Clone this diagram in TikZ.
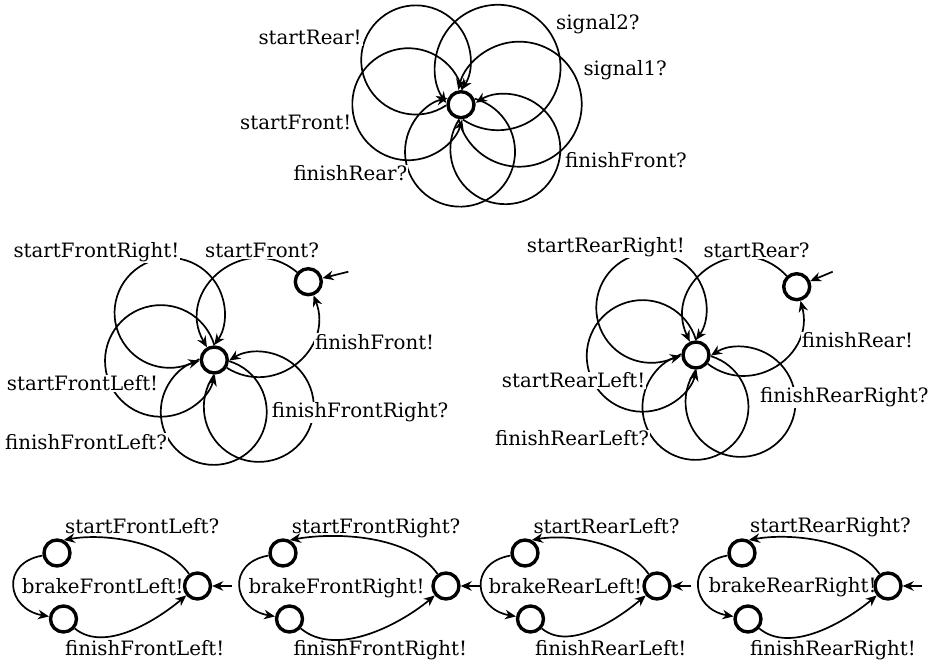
\documentclass[tikz,border=0pt]{standalone}
\usepackage{fontspec}
\setmainfont{DejaVu Serif}
\usetikzlibrary{calc}
\usetikzlibrary{arrows.meta}

\begin{document}
\begin{tikzpicture}[x=1pt, y=1pt,
		Kante/.style={line width=1.7pt, arrows = -{Stealth[length=11pt, width=9.5pt]}},
		Ort/.style={draw, circle, line width=3.4pt, minimum size=26pt, inner sep=0pt},
		Marke/.style={fill=white, inner sep=1pt, anchor=base west, font=\fontsize{19.8}{23}\selectfont},
		Schleife/.style n args={4}{to path={(\tikztostart) ++({#1+(#4)*#2}:15) arc[start angle={#1+180-(#4)*asin(15*sin(#2)/#3)}, delta angle={-(#4)*(360-2*asin(15*sin(#2)/#3))}, radius=#3]}}]
				\useasboundingbox (0,0) rectangle (933,663);
				% Steuerung
				\node (m) at (461,558.3) [Ort] {};
				\draw[Kante] (m) to[Schleife={135.3}{47.5}{54.6}{1}] (m);
				\draw[Kante] (m) to[Schleife={45.3}{128}{62.7}{-1}] (m);
				\draw[Kante] (m) to[Schleife={0.5}{99.7}{62.5}{-1}] (m);
				\draw[Kante] (m) to[Schleife={179.5}{94.9}{56}{-1}] (m);
				\draw[Kante] (m) to[Schleife={-91.2}{114.8}{55}{1}] (m);
				\draw[Kante] (m) to[Schleife={-45.1}{52.6}{55}{-1}] (m);
				\node (m1) at (257.3,618.7) [Marke] {startRear!};
				\node (m2) at (555,633.7) [Marke] {signal2?};
				\node (m3) at (582.3,587) [Marke] {signal1?};
				\node (m4) at (239,533.7) [Marke] {startFront!};
				\node (m5) at (292.3,482) [Marke] {finishRear?};
				\node (m6) at (564,495.3) [Marke] {finishFront?};
				% Front
				\node (f1) at (214.3,303) [Ort] {};
				\node (f0) at (308.3,381.3) [Ort] {};
				\coordinate (f0e) at ($(f0) + (40,10)$);
				\draw[Kante] (f0e) -- (f0);
				\draw[Kante] (f0) to[out=140, in=120, looseness=1.45] (f1);
				\draw[Kante] (f1) to[out=328, in=-69, looseness=1.3] (f0);
				\draw[Kante] (f1) to[Schleife={133.5}{43}{55}{1}] (f1);
				\draw[Kante] (f1) to[Schleife={181}{91}{55.8}{-1}] (f1);
				\draw[Kante] (f1) to[Schleife={-90.6}{86}{53}{1}] (f1);
				\draw[Kante] (f1) to[Schleife={-46.5}{44.5}{55}{-1}] (f1);
				\node (f2) at (12.3,405.3) [Marke] {startFrontRight!};
				\node (f3) at (204,405.3) [Marke] {startFront?};
				\node (f4) at (314,313.7) [Marke] {finishFront!};
				\node (f5) at (5.7,272) [Marke] {startFrontLeft!};
				\node (f6) at (270.7,245.3) [Marke] {finishFrontRight?};
				\node (f7) at (4,213.7) [Marke] {finishFrontLeft?};
				% Rear
				\node (r1) at (696,308) [Ort] {};
				\node (r0) at (796.7,376.3) [Ort] {};
				\coordinate (r0e) at ($(r0) + (36,15)$);
				\draw[Kante] (r0e) -- (r0);
				\draw[Kante] (r0) to[out=133, in=115, looseness=1.47] (r1);
				\draw[Kante] (r1) to[out=323, in=-75, looseness=1.28] (r0);
				\draw[Kante] (r1) to[Schleife={133.5}{43}{55}{1}] (r1);
				\draw[Kante] (r1) to[Schleife={181}{91}{55.8}{-1}] (r1);
				\draw[Kante] (r1) to[Schleife={-90.6}{86}{53}{1}] (r1);
				\draw[Kante] (r1) to[Schleife={-46.5}{44.5}{55}{-1}] (r1);
				\node (r2) at (525.7,410.3) [Marke] {startRearRight!};
				\node (r3) at (702.3,405.3) [Marke] {startRear?};
				\node (r4) at (800.7,315.3) [Marke] {finishRear!};
				\node (r5) at (500.7,275.3) [Marke] {startRearLeft!};
				\node (r6) at (759,260.3) [Marke] {finishRearRight?};
				\node (r7) at (494,217) [Marke] {finishRearLeft?};
				% Bremsen
				\node (fl0) at (197.5,77) [Ort] {};
				\node (fl1) at (57,110) [Ort] {};
				\node (fl2) at (63.5,44) [Ort] {};
				\coordinate (fl0e) at ($(fl0) + (34,0)$);
				\draw[Kante] (fl0e) -- (fl0);
				\draw[Kante] (fl0) to[out=125, in=10, looseness=0.8] (fl1.62);
				\draw[Kante] (fl1) to[out=190, in=170, looseness=1.8] (fl2);
				\draw[Kante] (fl2) to[out=-40, in=-140, looseness=0.85] (fl0);
				\node (fl3) at (64,129) [Marke, fill=none] {startFrontLeft?};
				\node (fl4) at (20.7,69.5) [Marke, fill=none] {brakeFrontLeft!};
				\node (fl5) at (64,7.3) [Marke, fill=none] {finishFrontLeft!};
				\node (fr0) at (446,77) [Ort] {};
				\node (fr1) at (283,110) [Ort] {};
				\node (fr2) at (289.5,44) [Ort] {};
				\coordinate (fr0e) at ($(fr0) + (34,0)$);
				\draw[Kante] (fr0e) -- (fr0);
				\draw[Kante] (fr0) to[out=125, in=10, looseness=0.8] (fr1.62);
				\draw[Kante] (fr1) to[out=190, in=170, looseness=1.8] (fr2);
				\draw[Kante] (fr2) to[out=-40, in=-140, looseness=0.85] (fr0);
				\node (fr3) at (290.7,129.7) [Marke, fill=none] {startFrontRight?};
				\node (fr4) at (247.3,69.7) [Marke, fill=none] {brakeFrontRight!};
				\node (fr5) at (292.3,7.3) [Marke, fill=none] {finishFrontRight!};
				\node (rl0) at (657,77) [Ort] {};
				\node (rl1) at (525,110) [Ort] {};
				\node (rl2) at (530.5,44) [Ort] {};
				\coordinate (rl0e) at ($(rl0) + (34,0)$);
				\draw[Kante] (rl0e) -- (rl0);
				\draw[Kante] (rl0) to[out=125, in=10, looseness=0.8] (rl1.62);
				\draw[Kante] (rl1) to[out=190, in=170, looseness=1.8] (rl2);
				\draw[Kante] (rl2) to[out=-40, in=-140, looseness=0.85] (rl0);
				\node (rl3) at (532.3,129.7) [Marke, fill=none] {startRearLeft?};
				\node (rl4) at (487.3,69.7) [Marke, fill=none] {brakeRearLeft!};
				\node (rl5) at (534,7.3) [Marke, fill=none] {finishRearLeft!};
				\node (rr0) at (888,77) [Ort] {};
				\node (rr1) at (742,110) [Ort] {};
				\node (rr2) at (748,44) [Ort] {};
				\coordinate (rr0e) at ($(rr0) + (34,0)$);
				\draw[Kante] (rr0e) -- (rr0);
				\draw[Kante] (rr0) to[out=125, in=10, looseness=0.8] (rr1.62);
				\draw[Kante] (rr1) to[out=190, in=170, looseness=1.8] (rr2);
				\draw[Kante] (rr2) to[out=-40, in=-140, looseness=0.85] (rr0);
				\node (rr3) at (749,130) [Marke, fill=none] {startRearRight?};
				\node (rr4) at (707.3,70) [Marke, fill=none] {brakeRearRight!};
				\node (rr5) at (749,7.3) [Marke, fill=none] {finishRearRight!};
			\end{tikzpicture}
\end{document}
